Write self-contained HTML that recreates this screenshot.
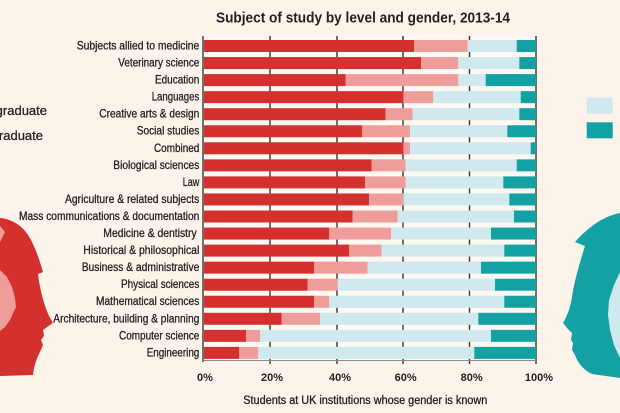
<!DOCTYPE html>
<html>
<head>
<meta charset="utf-8">
<style>
  html, body { margin: 0; padding: 0; background: #fcf3ea; }
  svg { display: block; }
  text { font-family: "Liberation Sans", Arial, sans-serif; fill: #231f20; }
  .lbl { font-size: 12px; stroke: #231f20; stroke-width: 0.3; }
  .tick { font-size: 11px; font-weight: bold; }
</style>
</head>
<body>
<svg width="620" height="413" viewBox="0 0 620 413" xmlns="http://www.w3.org/2000/svg">
  <rect x="0" y="0" width="620" height="413" fill="#fcf3ea"/>

  <!-- Heads -->
  <path d="M0,218 C12,219 24,226 31,240 C37,252 40,262 43,272 L38,274 C40,290 44,305 49,316 L53,323 L47,327 L43,330 L44,336 L41,340 L43,345 L40,352 C37,358 34,365 33,375 L0,376 Z" fill="#d3302e"/>
  <path d="M0,270 L7,277 L12,287 L15,298 L16,307 L13,313 L10,320 L5,327 L0,331 Z" fill="#ee9d9b"/>
  <path d="M0,226 L5,232 L0,242 Z" fill="#ee9d9b"/>
  <path d="M620,213 C605,216 590,225 575,242 L585,246 C580,262 574,282 572,297 C570,310 566,318 563,323 L567,328 L572,333 L571,340 L573,343 L572,350 L575,355 C578,364 585,371 592,374 L620,378 Z" fill="#13a1a4"/>
  <path d="M620,272 L614,285 L609,300 L608,315 L610,330 L614,345 L620,358 Z" fill="#cfe9ee"/>

  <!-- Title -->
  <text x="216" y="22.7" font-size="15" font-weight="bold" textLength="294" lengthAdjust="spacingAndGlyphs">Subject of study by level and gender, 2013-14</text>

  <!-- Left legend (cut) -->
  <text x="47" y="115" text-anchor="end" class="lbl" style="font-size:13px">Undergraduate</text>
  <text x="43" y="140" text-anchor="end" class="lbl" style="font-size:13px">Postgraduate</text>

  <!-- Right legend -->
  <rect x="586.7" y="97.7" width="26" height="16" fill="#cfe9ee"/>
  <rect x="586.7" y="122.3" width="26" height="16" fill="#13a1a4"/>

  <!-- Plot background -->
  <rect x="203" y="38" width="333" height="322" fill="#fdf8f1"/>

  <!-- Grid lines -->
  <g stroke="#333" stroke-width="1.4">
    <line x1="270" y1="36" x2="270" y2="364"/>
    <line x1="337" y1="36" x2="337" y2="364"/>
    <line x1="403" y1="36" x2="403" y2="364"/>
    <line x1="469.5" y1="36" x2="469.5" y2="364"/>
    <line x1="536" y1="36" x2="536" y2="364"/>
  </g>

  <!-- Bars -->
  <g id="bars">
    <rect x="204" y="40" width="210.3" height="12" fill="#d3302e"/>
    <rect x="414.3" y="40" width="53.4" height="12" fill="#ee9d9b"/>
    <rect x="467.7" y="40" width="49" height="12" fill="#cfe9ee"/>
    <rect x="516.7" y="40" width="19.3" height="12" fill="#13a1a4"/>

    <rect x="204" y="57.05" width="217" height="12" fill="#d3302e"/>
    <rect x="421" y="57.05" width="37.3" height="12" fill="#ee9d9b"/>
    <rect x="458.3" y="57.05" width="61" height="12" fill="#cfe9ee"/>
    <rect x="519.3" y="57.05" width="16.7" height="12" fill="#13a1a4"/>

    <rect x="204" y="74.1" width="141.7" height="12" fill="#d3302e"/>
    <rect x="345.7" y="74.1" width="112.6" height="12" fill="#ee9d9b"/>
    <rect x="458.3" y="74.1" width="27.4" height="12" fill="#cfe9ee"/>
    <rect x="485.7" y="74.1" width="50.3" height="12" fill="#13a1a4"/>

    <rect x="204" y="91.15" width="199.3" height="12" fill="#d3302e"/>
    <rect x="403.3" y="91.15" width="30" height="12" fill="#ee9d9b"/>
    <rect x="433.3" y="91.15" width="87.4" height="12" fill="#cfe9ee"/>
    <rect x="520.7" y="91.15" width="15.3" height="12" fill="#13a1a4"/>

    <rect x="204" y="108.2" width="181.7" height="12" fill="#d3302e"/>
    <rect x="385.7" y="108.2" width="27" height="12" fill="#ee9d9b"/>
    <rect x="412.7" y="108.2" width="106.6" height="12" fill="#cfe9ee"/>
    <rect x="519.3" y="108.2" width="16.7" height="12" fill="#13a1a4"/>

    <rect x="204" y="125.25" width="158.3" height="12" fill="#d3302e"/>
    <rect x="362.3" y="125.25" width="47.7" height="12" fill="#ee9d9b"/>
    <rect x="410" y="125.25" width="97.3" height="12" fill="#cfe9ee"/>
    <rect x="507.3" y="125.25" width="28.7" height="12" fill="#13a1a4"/>

    <rect x="204" y="142.3" width="199.3" height="12" fill="#d3302e"/>
    <rect x="403.3" y="142.3" width="6.7" height="12" fill="#ee9d9b"/>
    <rect x="410" y="142.3" width="120.7" height="12" fill="#cfe9ee"/>
    <rect x="530.7" y="142.3" width="5.3" height="12" fill="#13a1a4"/>

    <rect x="204" y="159.35" width="167.7" height="12" fill="#d3302e"/>
    <rect x="371.7" y="159.35" width="34" height="12" fill="#ee9d9b"/>
    <rect x="405.7" y="159.35" width="111" height="12" fill="#cfe9ee"/>
    <rect x="516.7" y="159.35" width="19.3" height="12" fill="#13a1a4"/>

    <rect x="204" y="176.4" width="161" height="12" fill="#d3302e"/>
    <rect x="365" y="176.4" width="40.7" height="12" fill="#ee9d9b"/>
    <rect x="405.7" y="176.4" width="97.6" height="12" fill="#cfe9ee"/>
    <rect x="503.3" y="176.4" width="32.7" height="12" fill="#13a1a4"/>

    <rect x="204" y="193.45" width="165" height="12" fill="#d3302e"/>
    <rect x="369" y="193.45" width="34.3" height="12" fill="#ee9d9b"/>
    <rect x="403.3" y="193.45" width="106" height="12" fill="#cfe9ee"/>
    <rect x="509.3" y="193.45" width="26.7" height="12" fill="#13a1a4"/>

    <rect x="204" y="210.5" width="148.7" height="12" fill="#d3302e"/>
    <rect x="352.7" y="210.5" width="45" height="12" fill="#ee9d9b"/>
    <rect x="397.7" y="210.5" width="116.3" height="12" fill="#cfe9ee"/>
    <rect x="514" y="210.5" width="22" height="12" fill="#13a1a4"/>

    <rect x="204" y="227.55" width="125.3" height="12" fill="#d3302e"/>
    <rect x="329.3" y="227.55" width="61.7" height="12" fill="#ee9d9b"/>
    <rect x="391" y="227.55" width="100" height="12" fill="#cfe9ee"/>
    <rect x="491" y="227.55" width="45" height="12" fill="#13a1a4"/>

    <rect x="204" y="244.6" width="145.3" height="12" fill="#d3302e"/>
    <rect x="349.3" y="244.6" width="32.4" height="12" fill="#ee9d9b"/>
    <rect x="381.7" y="244.6" width="122.6" height="12" fill="#cfe9ee"/>
    <rect x="504.3" y="244.6" width="31.7" height="12" fill="#13a1a4"/>

    <rect x="204" y="261.65" width="110.3" height="12" fill="#d3302e"/>
    <rect x="314.3" y="261.65" width="53.4" height="12" fill="#ee9d9b"/>
    <rect x="367.7" y="261.65" width="113.3" height="12" fill="#cfe9ee"/>
    <rect x="481" y="261.65" width="55" height="12" fill="#13a1a4"/>

    <rect x="204" y="278.7" width="103.7" height="12" fill="#d3302e"/>
    <rect x="307.7" y="278.7" width="30" height="12" fill="#ee9d9b"/>
    <rect x="337.7" y="278.7" width="157.3" height="12" fill="#cfe9ee"/>
    <rect x="495" y="278.7" width="41" height="12" fill="#13a1a4"/>

    <rect x="204" y="295.75" width="110" height="12" fill="#d3302e"/>
    <rect x="314" y="295.75" width="15.3" height="12" fill="#ee9d9b"/>
    <rect x="329.3" y="295.75" width="175" height="12" fill="#cfe9ee"/>
    <rect x="504.3" y="295.75" width="31.7" height="12" fill="#13a1a4"/>

    <rect x="204" y="312.8" width="77.7" height="12" fill="#d3302e"/>
    <rect x="281.7" y="312.8" width="38.3" height="12" fill="#ee9d9b"/>
    <rect x="320" y="312.8" width="158.3" height="12" fill="#cfe9ee"/>
    <rect x="478.3" y="312.8" width="57.7" height="12" fill="#13a1a4"/>

    <rect x="204" y="329.85" width="42" height="12" fill="#d3302e"/>
    <rect x="246" y="329.85" width="14" height="12" fill="#ee9d9b"/>
    <rect x="260" y="329.85" width="231" height="12" fill="#cfe9ee"/>
    <rect x="491" y="329.85" width="45" height="12" fill="#13a1a4"/>

    <rect x="204" y="346.9" width="35" height="12" fill="#d3302e"/>
    <rect x="239" y="346.9" width="19.3" height="12" fill="#ee9d9b"/>
    <rect x="258.3" y="346.9" width="216" height="12" fill="#cfe9ee"/>
    <rect x="474.3" y="346.9" width="61.7" height="12" fill="#13a1a4"/>
  </g>

  <!-- Axes -->
  <line x1="203" y1="36" x2="203" y2="362" stroke="#444" stroke-width="1.5"/>
  <line x1="203" y1="360.5" x2="536" y2="360.5" stroke="#8a8a8a" stroke-width="1"/>

  <!-- Category labels -->
  <g class="lbl">
    <text x="76.7" y="49.5" textLength="122.6" lengthAdjust="spacingAndGlyphs">Subjects allied to medicine</text>
    <text x="118.3" y="66.5" textLength="81" lengthAdjust="spacingAndGlyphs">Veterinary science</text>
    <text x="155" y="83.6" textLength="44.3" lengthAdjust="spacingAndGlyphs">Education</text>
    <text x="151.7" y="100.6" textLength="47.6" lengthAdjust="spacingAndGlyphs">Languages</text>
    <text x="99.3" y="117.7" textLength="100" lengthAdjust="spacingAndGlyphs">Creative arts &amp; design</text>
    <text x="136.7" y="134.7" textLength="62.6" lengthAdjust="spacingAndGlyphs">Social studies</text>
    <text x="154" y="151.8" textLength="45.3" lengthAdjust="spacingAndGlyphs">Combined</text>
    <text x="113.3" y="168.8" textLength="86" lengthAdjust="spacingAndGlyphs">Biological sciences</text>
    <text x="182.7" y="185.9" textLength="16.6" lengthAdjust="spacingAndGlyphs">Law</text>
    <text x="65" y="202.9" textLength="134.3" lengthAdjust="spacingAndGlyphs">Agriculture &amp; related subjects</text>
    <text x="19" y="220" textLength="180.3" lengthAdjust="spacingAndGlyphs">Mass communications &amp; documentation</text>
    <text x="103.3" y="237" textLength="93.4" lengthAdjust="spacingAndGlyphs">Medicine &amp; dentistry</text>
    <text x="83.3" y="254.1" textLength="116" lengthAdjust="spacingAndGlyphs">Historical &amp; philosophical</text>
    <text x="81.7" y="271.1" textLength="117.6" lengthAdjust="spacingAndGlyphs">Business &amp; administrative</text>
    <text x="121" y="288.2" textLength="78.3" lengthAdjust="spacingAndGlyphs">Physical sciences</text>
    <text x="96" y="305.2" textLength="103.3" lengthAdjust="spacingAndGlyphs">Mathematical sciences</text>
    <text x="53.3" y="322.3" textLength="146" lengthAdjust="spacingAndGlyphs">Architecture, building &amp; planning</text>
    <text x="119" y="339.3" textLength="80.3" lengthAdjust="spacingAndGlyphs">Computer science</text>
    <text x="146.7" y="356.4" textLength="52.6" lengthAdjust="spacingAndGlyphs">Engineering</text>
  </g>

  <!-- Tick labels -->
  <g class="tick" text-anchor="middle">
    <text x="205" y="381">0%</text>
    <text x="272" y="381">20%</text>
    <text x="340" y="381">40%</text>
    <text x="405.7" y="381">60%</text>
    <text x="471.7" y="381">80%</text>
    <text x="539" y="381">100%</text>
  </g>

  <!-- Axis title -->
  <text x="243.3" y="404" class="lbl" style="font-size:11.5px" textLength="244" lengthAdjust="spacingAndGlyphs">Students at UK institutions whose gender is known</text>
</svg>
</body>
</html>
